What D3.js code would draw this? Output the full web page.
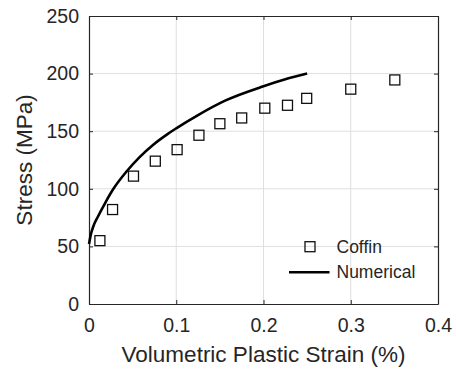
<!DOCTYPE html>
<html><head><meta charset="utf-8">
<script src="https://cdn.jsdelivr.net/npm/d3@7"></script>
<style>body{margin:0;background:#fff}svg{display:block}text{font-family:"Liberation Sans",Arial,sans-serif;fill:#262626}</style>
</head><body>
<svg id="c" width="456" height="372"></svg>
<script>
const coffinStrain = [0.0125,0.027,0.051,0.076,0.101,0.126,0.15,0.175,0.2015,0.2275,0.2495,0.3,0.3505];
const coffinStress = [55,82,111,124,134,146.5,156.5,161.5,170,172.5,178.5,186.5,194.5];
const numStrain = [0,0.002,0.005,0.01,0.018,0.028,0.043,0.058,0.074,0.09,0.1,0.125,0.156,0.2,0.225,0.25];
const numStress = [52,60,67.5,75.5,87,100,115,127.5,138.5,147.5,152.5,164,176.5,189,195,200];
const xTicks = [0,0.1,0.2,0.3,0.4];
const xTickLabels = ["0","0.1","0.2","0.3","0.4"];
const yTicks = [0,50,100,150,200,250];
const legendLabels = ["Coffin","Numerical"];

const svg = d3.select("#c");
const L=89, R=438, T=16, B=304;
const x = d3.scaleLinear().domain([0,0.4]).range([L,R]);
const y = d3.scaleLinear().domain([0,250]).range([B,T]);

// grid
const g = svg.append("g");
g.selectAll(".gx").data(xTicks.slice(1,-1)).join("line")
 .attr("x1",d=>x(d)).attr("x2",d=>x(d)).attr("y1",T).attr("y2",B)
 .attr("stroke","#dfdfdf").attr("stroke-width",1);
g.selectAll(".gy").data(yTicks.slice(1,-1)).join("line")
 .attr("y1",d=>y(d)).attr("y2",d=>y(d)).attr("x1",L).attr("x2",R)
 .attr("stroke","#dfdfdf").attr("stroke-width",1);

// axes
const tk=4;
const xb = svg.append("g").attr("transform",`translate(0,${B})`)
 .call(d3.axisBottom(x).tickValues(xTicks).tickFormat((d,i)=>xTickLabels[i]).tickSizeInner(-tk).tickSizeOuter(0).tickPadding(14));
const xt = svg.append("g").attr("transform",`translate(0,${T})`)
 .call(d3.axisTop(x).tickValues(xTicks).tickFormat("").tickSizeInner(-tk).tickSizeOuter(0));
const yl = svg.append("g").attr("transform",`translate(${L},0)`)
 .call(d3.axisLeft(y).tickValues(yTicks).tickSizeInner(-tk).tickSizeOuter(0).tickPadding(10));
const yr = svg.append("g").attr("transform",`translate(${R},0)`)
 .call(d3.axisRight(y).tickValues(yTicks).tickFormat("").tickSizeInner(-tk).tickSizeOuter(0));
[xb,xt,yl,yr].forEach(a=>{
  a.selectAll("path").attr("stroke","#262626").attr("stroke-width",1.2);
  a.selectAll("line").attr("stroke","#262626");
  a.selectAll("text").style("font-size","19.5px").attr("fill","#262626");
});
xb.selectAll("text").attr("dy","0.71em");

// numerical line
const pts = numStrain.map((s,i)=>[s,numStress[i]]);
svg.append("path").datum(pts)
 .attr("d",d3.line().x(d=>x(d[0])).y(d=>y(d[1])).curve(d3.curveMonotoneX))
 .attr("fill","none").attr("stroke","#000").attr("stroke-width",2.6);

// coffin squares
const s=10;
svg.selectAll(".sq").data(coffinStrain.map((v,i)=>[v,coffinStress[i]])).join("rect")
 .attr("x",d=>x(d[0])-s/2).attr("y",d=>y(d[1])-s/2).attr("width",s).attr("height",s)
 .attr("fill","none").attr("stroke","#111").attr("stroke-width",1.3);

// legend
const lg = svg.append("g");
lg.append("rect").attr("x",310-5).attr("y",246.7-5).attr("width",10).attr("height",10)
 .attr("fill","none").attr("stroke","#111").attr("stroke-width",1.3);
lg.append("line").attr("x1",289).attr("x2",329.5).attr("y1",272.3).attr("y2",272.3)
 .attr("stroke","#000").attr("stroke-width",2.6);
lg.selectAll("text").data(legendLabels).join("text")
 .attr("x",336.5).attr("y",(d,i)=>i?278:253).text(d=>d).style("font-size","17.5px");

// axis labels
svg.append("text").attr("x",(L+R)/2).attr("y",362).attr("text-anchor","middle")
 .style("font-size","22.5px").text("Volumetric Plastic Strain (%)");
svg.append("text").attr("transform",`translate(32,${(T+B)/2}) rotate(-90)`).attr("text-anchor","middle")
 .style("font-size","22.5px").text("Stress (MPa)");
</script>
</body></html>
